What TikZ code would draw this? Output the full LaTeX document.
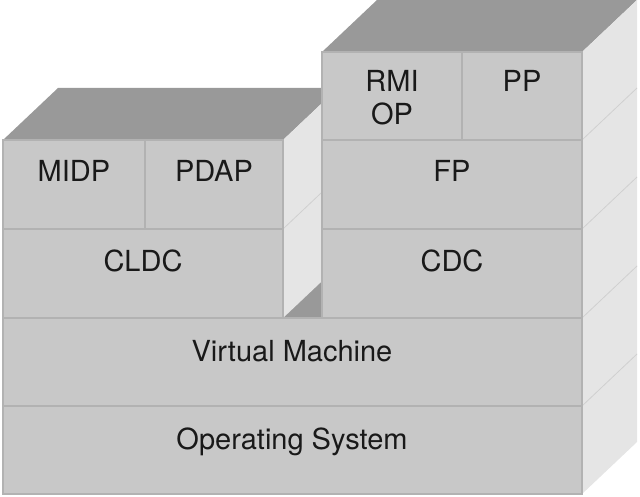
\documentclass[tikz,border=0pt]{standalone}
\usepackage{fontspec}
\setmainfont{TeX Gyre Heros}
\definecolor{frontc}{RGB}{200,200,200}
\definecolor{topc}{RGB}{153,153,153}
\definecolor{sidec}{RGB}{229,229,229}
\definecolor{sepc}{RGB}{178,178,178}
\definecolor{sidel}{RGB}{208,208,208}
\tikzset{
  front/.style={fill=frontc, draw=sepc, line width=1.2pt},
  topface/.style={fill=topc},
  sideface/.style={fill=sidec},
  sideline/.style={draw=sidel, line width=0.8pt},
  lbl/.style={inner sep=0pt, anchor=base, font=\fontsize{29}{33}\selectfont, text=black!90},
}
\begin{document}
\begin{tikzpicture}[x=1pt,y=-1pt]
\useasboundingbox (0,0) rectangle (640,497);
% top of virtual machine (visible in gap)
\fill[topface] (3,318) -- (582,318) -- (637,266) -- (58,266) -- cycle;
% left stack
\fill[topface] (3,140) -- (283,140) -- (338,88) -- (58,88) -- cycle;
\fill[sideface] (283,140) -- (338,88) -- (338,266) -- (283,318) -- cycle;
\draw[sideline] (283,229) -- (338,177);
\path[front] (3,140) rectangle (145,229);
\path[front] (145,140) rectangle (283,229);
\path[front] (3,229) rectangle (283,318);
% right stack
\fill[topface] (322,52) -- (582,52) -- (637,0) -- (377,0) -- cycle;
\fill[sideface] (582,52) -- (637,0) -- (637,442) -- (582,494) -- cycle;
\foreach \yy in {140,229,318,406} {
  \draw[sideline] (582,\yy) -- (637,\yy-52);
}
\path[front] (322,52) rectangle (462,140);
\path[front] (462,52) rectangle (582,140);
\path[front] (322,140) rectangle (582,229);
\path[front] (322,229) rectangle (582,318);
% lower layers
\path[front] (3,318) rectangle (582,406);
\path[front] (3,406) rectangle (582,494);
% labels
\node[lbl] (midp) at (74,182) {MIDP};
\node[lbl] (pdap) at (214,182) {PDAP};
\node[lbl] (cldc) at (143,272) {CLDC};
\node[lbl] (rmi) at (392,92) {RMI};
\node[lbl] (op) at (392,125) {OP};
\node[lbl] (pp) at (522,92) {PP};
\node[lbl] (fp) at (452,182) {FP};
\node[lbl] (cdc) at (452,272) {CDC};
\node[lbl] (vm) at (292,361) {Virtual Machine};
\node[lbl] (os) at (292,449) {Operating System};
\end{tikzpicture}
\end{document}
